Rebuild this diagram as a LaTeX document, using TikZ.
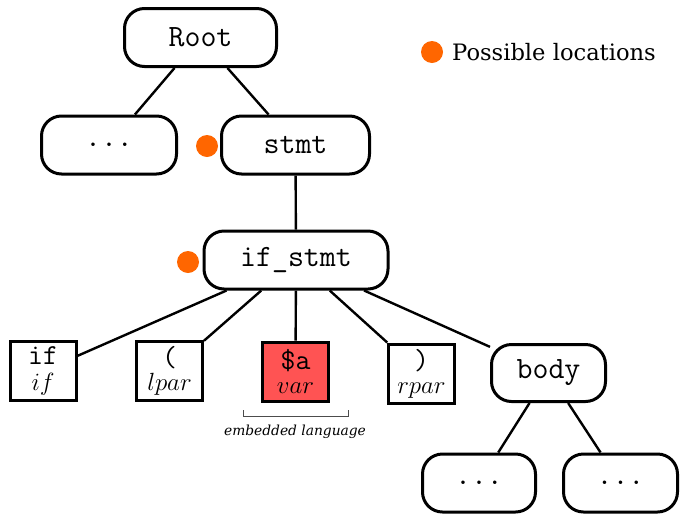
\documentclass[tikz,border=0pt]{standalone}
\usepackage{fontspec}
\setmainfont{DejaVu Serif}
\definecolor{locorange}{HTML}{FF6600}
\definecolor{varred}{HTML}{FF5353}
\begin{document}
\begin{tikzpicture}[x=1pt,y=-1pt,
  tnode/.style={draw, line width=3pt, rounded corners=20pt, minimum height=58pt, inner sep=0pt,
    font=\fontsize{31}{33}\selectfont\ttfamily},
  leaf/.style={draw, line width=3pt, minimum width=66pt, minimum height=59pt, inner sep=0pt,
    align=center, font=\fontsize{26}{24}\selectfont},
  edge/.style={line width=2.4pt},
  dot/.style={circle, fill=locorange, inner sep=0pt, minimum size=22pt}]
\useasboundingbox (0,0) rectangle (680,515);

% tree nodes
\node[tnode, minimum width=152pt] (root) at (200.5,37.5) {Root};
\node[tnode, minimum width=135pt] (other) at (109,145) {...};
\node[tnode, minimum width=148pt] (stmt) at (295.5,145) {stmt};
\node[tnode, minimum width=184pt] (ifstmt) at (296,260) {if\_stmt};
\node[tnode, minimum width=114pt, minimum height=57pt] (body) at (548.5,373) {body};
\node[tnode, minimum width=113pt] (b1) at (479,483) {...};
\node[tnode, minimum width=114pt] (b2) at (620.5,483) {...};

% leaves
\node[leaf] (kwif) at (43,371) {{\fontsize{29}{24}\selectfont\ttfamily if}\\[2pt]$if$};
\node[leaf] (lpar) at (169.5,371) {{\fontsize{29}{24}\selectfont\ttfamily (}\\$lpar$};
\node[leaf, fill=varred] (var) at (295.5,371.5) {{\fontsize{29}{24}\selectfont\ttfamily \$a}\\$var$};
\node[leaf] (rpar) at (421.5,373.5) {{\fontsize{29}{24}\selectfont\ttfamily )}\\$rpar$};

% edges
\draw[edge] (root) -- (other);
\draw[edge] (root) -- (stmt);
\draw[edge] (stmt) -- (ifstmt);
\draw[edge] (ifstmt) -- (kwif);
\draw[edge] (ifstmt) -- (lpar);
\draw[edge] (ifstmt) -- (var);
\draw[edge] (ifstmt) -- (rpar);
\draw[edge] (ifstmt) -- (body);
\draw[edge] (body) -- (b1);
\draw[edge] (body) -- (b2);

% possible locations
\node[dot] (loc1) at (207,146) {};
\node[dot] (loc2) at (188,262) {};
\node[dot] (legdot) at (432,52) {};
\node[anchor=base west, inner sep=0pt, font=\fontsize{22.6}{25}\selectfont] (legtext) at (452,60) {Possible locations};

% embedded language bracket
\coordinate (brl) at (243,410);
\coordinate (brr) at (348,410);
\draw[line width=1pt, black!70] (brl) -- ++(0,6) -| (brr);
\node[font=\fontsize{13.8}{16}\selectfont\itshape, inner sep=0pt] (emb) at (295,432) {embedded language};
\end{tikzpicture}
\end{document}
